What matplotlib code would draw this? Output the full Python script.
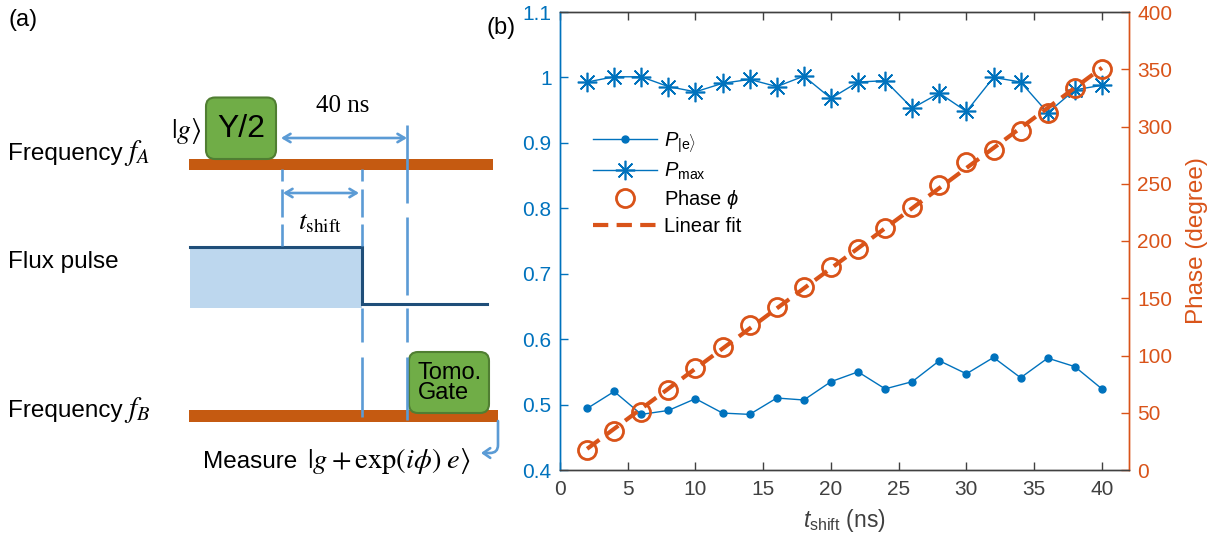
import numpy as np
import matplotlib
matplotlib.use("Agg")
import matplotlib.pyplot as plt
from matplotlib.patches import FancyBboxPatch, FancyArrowPatch, Rectangle
from matplotlib.ticker import FuncFormatter

plt.rcParams['font.family'] = ['Liberation Sans', 'DejaVu Sans']
plt.rcParams['mathtext.fontset'] = 'custom'
plt.rcParams['mathtext.rm'] = 'Liberation Sans'
plt.rcParams['mathtext.it'] = 'Liberation Sans:italic'
plt.rcParams['mathtext.bf'] = 'Liberation Sans:bold'
plt.rcParams['lines.scale_dashes'] = False

# ---------------------------------------------------------------- data (panel b)
t_shift = [2, 4, 6, 8, 10, 12, 14, 16, 18, 20, 22, 24, 26, 28, 30, 32, 34, 36, 38, 40]
p_e = [0.494, 0.520, 0.485, 0.491, 0.509, 0.487, 0.485, 0.510, 0.507, 0.535,
       0.550, 0.524, 0.535, 0.567, 0.547, 0.572, 0.541, 0.571, 0.558, 0.524]
p_max = [0.993, 1.001, 1.001, 0.986, 0.978, 0.991, 0.997, 0.986, 1.002, 0.968,
         0.993, 0.995, 0.953, 0.976, 0.948, 1.000, 0.993, 0.946, 0.981, 0.988]
phase = [17.4, 34.3, 50.9, 69.8, 88.7, 107.0, 127.0, 142.4, 159.6, 177.0,
         193.3, 211.3, 229.7, 248.5, 268.6, 279.7, 296.5, 312.2, 333.8, 350.3]
x_ticks = [0, 5, 10, 15, 20, 25, 30, 35, 40]
p_ticks = [0.4, 0.5, 0.6, 0.7, 0.8, 0.9, 1.0, 1.1]
deg_ticks = [0, 50, 100, 150, 200, 250, 300, 350, 400]

BLUE = "#0072BD"
ORANGE = "#D95319"
BAR = "#C55A11"
GUIDE = "#5B9BD5"
GREEN = "#70AD47"
GREEN_EDGE = "#507E32"
FLUX_FILL = "#BDD7EE"
FLUX_LINE = "#1F4E79"
AXC = "#404040"

fig = plt.figure(figsize=(12.2, 5.46), dpi=100)

# ---------------------------------------------------------------- panel (a): pulse diagram in pixel units
ax = fig.add_axes([0, 0, 1, 1])
ax.set_xlim(0, 1220)
ax.set_ylim(546, 0)
ax.axis("off")

ax.text(8, 20, "(a)", fontsize=17, va="center")
ax.text(487, 28, "(b)", fontsize=17, va="center")

# drive lines
ax.add_patch(Rectangle((189, 158.5), 304, 11.5, color=BAR, lw=0))
ax.add_patch(Rectangle((189, 410), 309, 11.5, color=BAR, lw=0))

# flux pulse
ax.add_patch(Rectangle((190, 247), 172, 61, fc=FLUX_FILL, ec="none"))
ax.plot([190, 362, 362, 487], [247, 247, 304, 304], color=FLUX_LINE, lw=2.2,
        solid_joinstyle="miter")

# vertical guide lines (dashed)
def guide(x, segs):
    for y0, y1 in segs:
        ax.plot([x, x], [y0, y1], color=GUIDE, lw=1.9, solid_capstyle="butt")

guide(282, [(169, 181), (189, 217), (224, 246)])
guide(362, [(169, 181), (189, 217), (224, 246), (308, 342), (357, 417)])
guide(407, [(125, 203), (217, 295), (308, 342), (357, 420)])

# gates
ax.add_patch(FancyBboxPatch((206, 97.5), 70, 61.5, boxstyle="round,pad=0,rounding_size=9",
                            fc=GREEN, ec=GREEN_EDGE, lw=1.5))
ax.text(241, 129, "Y/2", fontsize=23, ha="center", va="center")
ax.add_patch(FancyBboxPatch((409, 352), 80, 61, boxstyle="round,pad=0,rounding_size=9",
                            fc=GREEN, ec=GREEN_EDGE, lw=1.5))
ax.text(418, 383, "Tomo.\nGate", fontsize=17, ha="left", va="center", linespacing=0.85)

# arrows
arw = dict(arrowstyle="<->,head_length=0.5,head_width=0.3", color=GUIDE, lw=1.9,
           shrinkA=0, shrinkB=0)
ax.annotate("", xy=(407, 138), xytext=(281, 138), arrowprops=arw)
ax.annotate("", xy=(359, 193), xytext=(283, 193), arrowprops=arw)
ax.add_patch(FancyArrowPatch((498, 421), (481, 453),
                             connectionstyle="angle,angleA=-90,angleB=0,rad=8",
                             arrowstyle="->,head_length=5,head_width=3.5",
                             color=GUIDE, lw=1.9, shrinkA=0, shrinkB=0))

# labels
ax.text(8, 160, "Frequency", fontsize=17.5)
ax.text(124, 160, r"$f_A$", fontsize=21, math_fontfamily="stix")
ax.text(8, 268, "Flux pulse", fontsize=17.5)
ax.text(8, 417, "Frequency", fontsize=17.5)
ax.text(124, 417, r"$f_B$", fontsize=21, math_fontfamily="stix")
ax.text(186, 131, r"$|g\rangle$", fontsize=20, ha="center", va="center",
        math_fontfamily="stix")
ax.text(343, 106, "40 ns", fontsize=18, ha="center", va="center",
        family="Liberation Serif")
ax.text(320, 222, r"$t_{\mathrm{shift}}$", fontsize=20, ha="center", va="center",
        math_fontfamily="stix")
ax.text(203, 468, "Measure", fontsize=17.5)
ax.text(307, 468, r"$|g+\exp(i\phi)\;e\rangle$", fontsize=20.5,
        math_fontfamily="stix")

# ---------------------------------------------------------------- panel (b)
ax1 = fig.add_axes([560 / 1220, 1 - 470 / 546, 569 / 1220, 458 / 546])
ax2 = ax1.twinx()

l1, = ax1.plot(t_shift, p_e, color=BLUE, lw=1.0, marker="o", ms=5,
               label=r"$P_{|\mathrm{e}\rangle}$")
l2, = ax1.plot(t_shift, p_max, color=BLUE, lw=1.0, marker=(8, 2, 0), ms=14, mew=1.2,
               label=r"$P_{\mathrm{max}}$")
fit = np.polyval(np.polyfit(t_shift, phase, 1), t_shift)
l3, = ax2.plot(t_shift, phase, ls="none", marker="o", ms=13, mfc="none", mec=ORANGE,
               mew=2.0, label=r"Phase $\phi$")
l4, = ax2.plot(t_shift, fit, color=ORANGE, lw=3, dashes=(11, 6), label="Linear fit")

ax1.set_xlim(0, 42)
ax1.set_ylim(0.4, 1.1)
ax2.set_ylim(0, 400)
ax1.set_xticks(x_ticks)
ax1.set_yticks(p_ticks)
ax2.set_yticks(deg_ticks)
ax1.yaxis.set_major_formatter(FuncFormatter(lambda v, p: f"{v:g}"))

ax1.tick_params(axis="x", direction="in", length=6, width=1, colors=AXC,
                labelsize=15, pad=7, top=True)
ax1.tick_params(axis="y", direction="in", length=6, width=1, colors=BLUE,
                labelsize=15, pad=6)
ax2.tick_params(axis="y", direction="in", length=6, width=1, colors=ORANGE,
                labelsize=15, pad=6)
for a in (ax1, ax2):
    a.spines["top"].set_color(AXC)
    a.spines["bottom"].set_color(AXC)
    a.spines["left"].set_color(BLUE)
    a.spines["right"].set_color(ORANGE)
    for s in a.spines.values():
        s.set_linewidth(1.0)

ax1.set_xlabel(r"$t_{\mathrm{shift}}$ (ns)", fontsize=16.5, color=AXC, labelpad=6)
ax2.set_ylabel("Phase (degree)", fontsize=17.5, color=ORANGE, labelpad=10)

ax2.legend(handles=[l1, l2, l3, l4], loc="upper left",
           bbox_to_anchor=(593 / 1220, 1 - 130 / 546), bbox_transform=fig.transFigure,
           frameon=False, fontsize=14.5, handlelength=3.2, handletextpad=0.35,
           labelspacing=0.3, borderpad=0, borderaxespad=0)

fig.savefig("out.png", dpi=100)
